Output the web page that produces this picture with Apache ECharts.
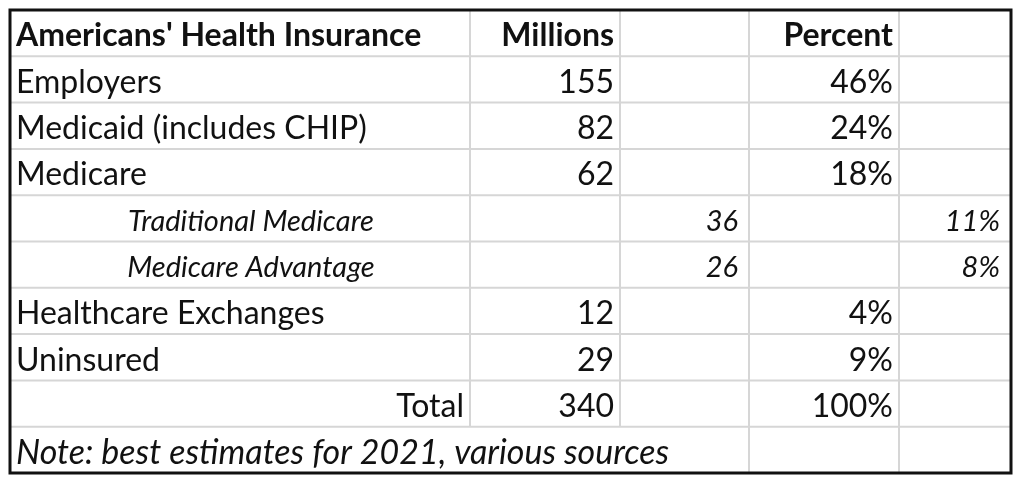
<!DOCTYPE html>
<html><head><meta charset="utf-8">
<script src="https://cdn.jsdelivr.net/npm/echarts@6/dist/echarts.min.js"></script>
<style>html,body{margin:0;padding:0;background:#fff}#c{width:1024px;height:489px}</style>
</head><body><div id="c"></div>
<script>
const headers = ["Americans' Health Insurance", "Millions", "", "Percent", ""];
const rowLabels = ["Employers", "Medicaid (includes CHIP)", "Medicare", "Traditional Medicare", "Medicare Advantage", "Healthcare Exchanges", "Uninsured", "Total"];
const millions = [155, 82, 62, null, null, 12, 29, 340];
const subMillions = [null, null, null, 36, 26, null, null, null];
const percent = [46, 24, 18, null, null, 4, 9, 100];
const subPercent = [null, null, null, 11, 8, null, null, null];
const note = "Note: best estimates for 2021, various sources";

// layout (not data)
const colEdges = [0, 460, 610, 739, 889, 1001];
const NROWS = 10;
const FONT = 'Lato';
const styles = {
  head:  {fontWeight: 'bold', fontStyle: 'normal', fontSize: 32},
  body:  {fontWeight: 'normal', fontStyle: 'normal', fontSize: 32},
  sub:   {fontWeight: 'normal', fontStyle: 'italic', fontSize: 29},
  note:  {fontWeight: 'normal', fontStyle: 'italic', fontSize: 34}
};

const cells = [];
function addCell(c0, c1, r, text, align, kind) {
  cells.push({c0: colEdges[c0], c1: colEdges[c1], r: r, text: text, align: align, kind: kind});
}
headers.forEach((h, i) => addCell(i, i + 1, 0, h, i === 0 ? 'left' : 'right', 'head'));
rowLabels.forEach((lab, k) => {
  const r = k + 1;
  const isSub = subMillions[k] != null;
  const isTotal = lab === 'Total';
  addCell(0, 1, r, lab, isSub ? 'center' : (isTotal ? 'right' : 'left'), isSub ? 'sub' : 'body');
  addCell(1, 2, r, millions[k] != null ? String(millions[k]) : '', 'right', 'body');
  addCell(2, 3, r, subMillions[k] != null ? String(subMillions[k]) : '', 'right', 'sub');
  addCell(3, 4, r, percent[k] != null ? percent[k] + '%' : '', 'right', 'body');
  addCell(4, 5, r, subPercent[k] != null ? subPercent[k] + '%' : '', 'right', 'sub');
});
addCell(0, 3, 9, note, 'left', 'note');
addCell(3, 4, 9, '', 'right', 'body');
addCell(4, 5, 9, '', 'right', 'body');

const chart = echarts.init(document.getElementById('c'), null, {renderer: 'canvas'});
chart.setOption({
  animation: false,
  backgroundColor: '#fff',
  grid: {left: 10, top: 10, width: 1001, height: 463, show: true, borderColor: '#111', borderWidth: 3, backgroundColor: 'transparent', z: 10},
  xAxis: {type: 'value', min: 0, max: 1001, show: false},
  yAxis: {type: 'value', min: 0, max: NROWS, inverse: true, show: false},
  series: [{
    type: 'custom',
    coordinateSystem: 'cartesian2d',
    clip: false,
    data: cells.map(c => [c.c0, c.c1, c.r]),
    renderItem: function (params, api) {
      const cell = cells[params.dataIndex];
      const p0 = api.coord([api.value(0), api.value(2)]);
      const p1 = api.coord([api.value(1), api.value(2) + 1]);
      const children = [];
      const lineStyle = {stroke: '#d6d6d6', lineWidth: 2};
      if (cell.c1 < 1001) children.push({type: 'line', shape: {x1: p1[0], y1: p0[1], x2: p1[0], y2: p1[1]}, style: lineStyle});
      if (cell.r + 1 < NROWS) children.push({type: 'line', shape: {x1: p0[0], y1: p1[1], x2: p1[0], y2: p1[1]}, style: lineStyle});
      if (cell.text) {
        const st = styles[cell.kind];
        let x;
        if (cell.align === 'left') x = p0[0] + 6;
        else if (cell.align === 'right') x = p1[0] - (cell.kind === 'sub' ? 11 : 6);
        else x = (p0[0] + p1[0]) / 2 + 11;
        const y = (p0[1] + p1[1]) / 2 + (cell.kind === 'sub' ? 3 : 3);
        children.push({type: 'text', style: {
          text: cell.text, x: x, y: y,
          textAlign: cell.align, textVerticalAlign: 'middle',
          align: cell.align, verticalAlign: 'middle',
          fontFamily: FONT, fontSize: st.fontSize, fontWeight: st.fontWeight, fontStyle: st.fontStyle,
          fill: '#111'
        }});
      }
      return {type: 'group', children: children};
    }
  }]
});
</script></body></html>
